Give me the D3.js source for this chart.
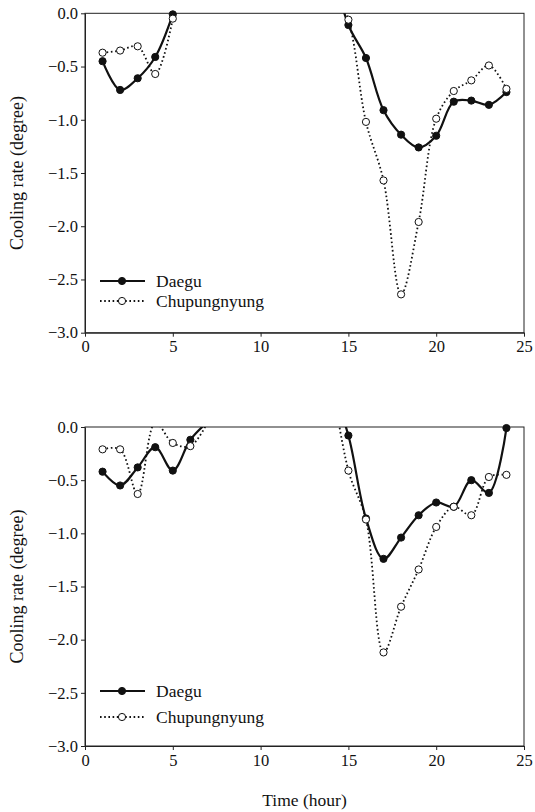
<!DOCTYPE html>
<html lang="en">
<head>
    <meta charset="UTF-8">
    <script src="https://d3js.org/d3.v7.min.js"></script>
    <title>Cooling rate</title>
<style>
    body { margin: 0; background: #fff; }
    svg text { font-family: "Liberation Serif", "DejaVu Serif", serif; fill: #111; }
</style>
</head>
<body>
<svg id="chart" width="535" height="812"></svg>
<script>
// hours of each observed stretch
const hoursAmTop = [1, 2, 3, 4, 5];
const hoursAmBottom = [1, 2, 3, 4, 5, 6, 7];
const hoursPm = [14, 15, 16, 17, 18, 19, 20, 21, 22, 23, 24];

// upper panel
const daeguAmTop = [-0.45, -0.72, -0.61, -0.41, -0.01];
const chupAmTop = [-0.37, -0.35, -0.31, -0.57, -0.05];
const daeguPmTop = [0.5, -0.11, -0.42, -0.91, -1.14, -1.26, -1.15, -0.83, -0.82, -0.86, -0.74];
const chupPmTop = [0.3, -0.06, -1.02, -1.57, -2.64, -1.96, -0.99, -0.73, -0.63, -0.49, -0.71];

// lower panel
const daeguAmBottom = [-0.42, -0.55, -0.38, -0.19, -0.41, -0.12, 0.05];
const chupAmBottom = [-0.21, -0.21, -0.63, 0.04, -0.15, -0.18, 0.05];
const daeguPmBottom = [0.4, -0.08, -0.86, -1.24, -1.04, -0.83, -0.71, -0.75, -0.5, -0.62, -0.01];
const chupPmBottom = [0.5, -0.41, -0.87, -2.12, -1.69, -1.34, -0.94, -0.75, -0.83, -0.47, -0.45];

const xTicks = [0, 5, 10, 15, 20, 25];
const yTicks = [0, -0.5, -1.0, -1.5, -2.0, -2.5, -3.0];
const seriesNames = ["Daegu", "Chupungnyung"];

const svg = d3.select("#chart");
const x = d3.scaleLinear().domain([0, 25]).range([85, 524]);

function zip(hs, vs) { return hs.map((h, i) => ({h: h, v: vs[i]})); }

function panel(top, bottom, id, daegu, chup, legendY) {
    const y = d3.scaleLinear().domain([-3, 0]).range([bottom, top]);
    const g = svg.append("g");

    g.append("clipPath").attr("id", id)
        .append("rect")
        .attr("x", x(0)).attr("y", y(0))
        .attr("width", x(25) - x(0)).attr("height", y(-3) - y(0));

    // frame
    g.append("rect")
        .attr("x", x(0)).attr("y", y(0))
        .attr("width", x(25) - x(0)).attr("height", y(-3) - y(0))
        .attr("fill", "none").attr("stroke", "#222").attr("stroke-width", 1);

    const ax = g.append("g")
        .attr("transform", "translate(0," + y(-3) + ")")
        .call(d3.axisBottom(x).tickValues(xTicks).tickSize(4).tickSizeOuter(0).tickPadding(4).tickFormat(d3.format("d")));
    const ay = g.append("g")
        .attr("transform", "translate(" + x(0) + ",0)")
        .call(d3.axisLeft(y).tickValues(yTicks).tickSize(4).tickSizeOuter(0).tickPadding(3).tickFormat(d3.format(".1f")));
    [ax, ay].forEach(a => {
        a.select(".domain").attr("stroke", "#222");
        a.selectAll(".tick line").attr("stroke", "#222");
        a.selectAll("text").attr("font-size", 16.5).attr("fill", "#111")
            .style("font-family", "'Liberation Serif', serif");
    });

    g.append("text")
        .attr("transform", "translate(17," + ((top + bottom) / 2) + ") rotate(-90)")
        .attr("text-anchor", "middle")
        .attr("dy", "0.35em")
        .attr("font-size", 18)
        .text("Cooling rate (degree)");

    const line = d3.line()
        .x(d => x(d.h)).y(d => y(d.v))
        .curve(d3.curveCatmullRom.alpha(0.5));

    const styles = [
        {stroke: 2.2, dash: null, fill: "#111"},
        {stroke: 1.8, dash: "1.6,2.6", fill: "#fff"}
    ];

    [daegu, chup].forEach((segs, k) => {
        const st = styles[k];
        segs.forEach(seg => {
            g.append("path")
                .datum(seg)
                .attr("clip-path", "url(#" + id + ")")
                .attr("d", line)
                .attr("fill", "none")
                .attr("stroke", "#111")
                .attr("stroke-width", st.stroke)
                .attr("stroke-dasharray", st.dash);
        });
    });
    [daegu, chup].forEach((segs, k) => {
        const st = styles[k];
        segs.forEach(seg => {
            g.selectAll(null)
                .data(seg.filter(d => d.v <= 0))
                .enter().append("circle")
                .attr("cx", d => x(d.h))
                .attr("cy", d => y(d.v))
                .attr("r", 3.6)
                .attr("fill", st.fill)
                .attr("stroke", "#111")
                .attr("stroke-width", 1);
        });
    });

    // legend
    seriesNames.forEach((name, k) => {
        const st = styles[k];
        const ly = legendY[k];
        g.append("line")
            .attr("x1", 100).attr("x2", 145).attr("y1", ly).attr("y2", ly)
            .attr("stroke", "#111").attr("stroke-width", st.stroke)
            .attr("stroke-dasharray", st.dash);
        g.append("circle")
            .attr("cx", 122).attr("cy", ly).attr("r", 3.6)
            .attr("fill", st.fill).attr("stroke", "#111").attr("stroke-width", 1);
        g.append("text")
            .attr("x", 156).attr("y", ly).attr("dy", "0.35em")
            .attr("font-size", 17.5)
            .text(name);
    });
}

panel(13.3, 332.7, "clipTop",
    [zip(hoursAmTop, daeguAmTop), zip(hoursPm, daeguPmTop)],
    [zip(hoursAmTop, chupAmTop), zip(hoursPm, chupPmTop)],
    [281, 301]);

panel(427, 746, "clipBottom",
    [zip(hoursAmBottom, daeguAmBottom), zip(hoursPm, daeguPmBottom)],
    [zip(hoursAmBottom, chupAmBottom), zip(hoursPm, chupPmBottom)],
    [691, 717]);

svg.append("text")
    .attr("x", x(12.5)).attr("y", 800)
    .attr("text-anchor", "middle")
    .attr("dy", "0.35em")
    .attr("font-size", 17.5)
    .text("Time (hour)");
</script>
</body>
</html>
